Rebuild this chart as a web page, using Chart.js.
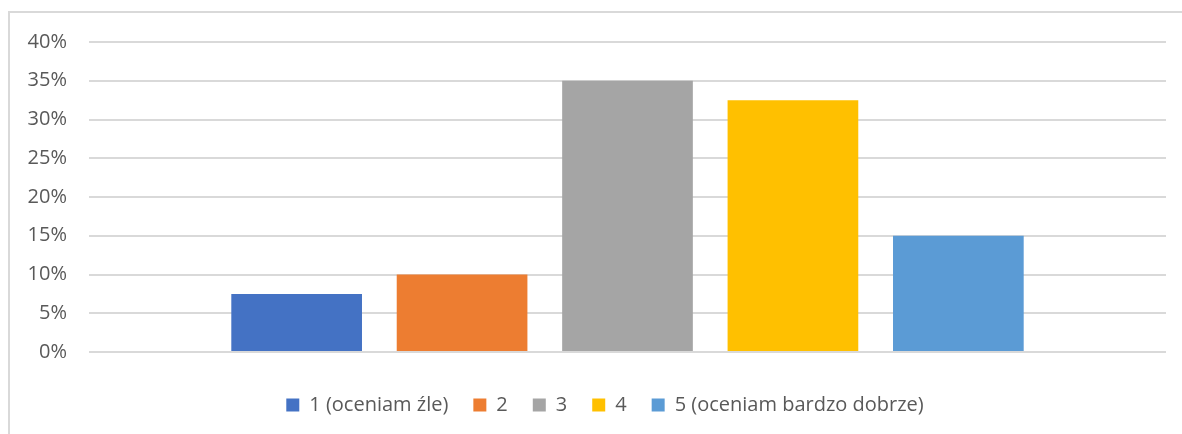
<!DOCTYPE html>
<html>
<head>
<meta charset="utf-8">
<script src="https://cdn.jsdelivr.net/npm/chart.js@4"></script>
<style>
  body { margin: 0; background: #fff; overflow: hidden; }
  #frame {
    position: absolute; left: 8px; top: 11px;
    width: 1200px; height: 440px;
    border: 2px solid #d9d9d9; box-sizing: border-box;
  }
  #wrap { position: absolute; left: 0; top: 0; width: 1182px; height: 434px; }
</style>
</head>
<body>
<div id="frame"></div>
<div id="wrap"><canvas id="chart"></canvas></div>
<script>
// Dane
const categories = [""];
const seriesLabels = ["1 (oceniam źle)", "2", "3", "4", "5 (oceniam bardzo dobrze)"];
const seriesValues = [0.075, 0.10, 0.35, 0.325, 0.15];
const seriesColors = ["#4472C4", "#ED7D31", "#A5A5A5", "#FFC000", "#5B9BD5"];
const yTicks = [0, 0.05, 0.10, 0.15, 0.20, 0.25, 0.30, 0.35, 0.40];

const FONT = "'Open Sans', sans-serif";
const TEXT = "#595959";

const datasets = seriesLabels.map((label, i) => ({
  label,
  data: [seriesValues[i]],
  backgroundColor: seriesColors[i],
  borderWidth: 0,
  categoryPercentage: 0.768,
  barPercentage: 0.79,
}));

// legenda wyśrodkowana na ramce wykresu, nie na płótnie
const shiftLegend = {
  id: "shiftLegend",
  afterInit(chart) {
    const legend = chart.legend;
    if (!legend) return;
    const origDraw = legend.draw;
    legend.draw = function (area) {
      chart.ctx.save();
      chart.ctx.translate(22, 0);
      origDraw.call(this, area);
      chart.ctx.restore();
    };
  },
};

const ctx = document.querySelector("#chart").getContext("2d");
new Chart(ctx, {
  type: "bar",
  data: { labels: categories, datasets },
  plugins: [shiftLegend],
  options: {
    responsive: true,
    maintainAspectRatio: false,
    animation: false,
    layout: { padding: { left: 0, right: 16, top: 42, bottom: 9 } },
    scales: {
      x: {
        grid: { display: false },
        border: { display: false },
        ticks: { display: false },
        afterFit: (scale) => {
          scale.height = 18;
        },
      },
      y: {
        min: 0,
        max: 0.4,
        afterBuildTicks: (scale) => {
          scale.ticks = yTicks.map((v) => ({ value: v }));
        },
        afterFit: (scale) => {
          scale.width = 89;
        },
        border: { display: false },
        grid: { color: "#d9d9d9", lineWidth: 2, drawTicks: false },
        ticks: {
          padding: 22,
          color: TEXT,
          font: { family: FONT, size: 20 },
          callback: (v) => Math.round(v * 100) + "%",
        },
      },
    },
    plugins: {
      legend: {
        position: "bottom",
        labels: {
          color: TEXT,
          font: { family: FONT, size: 20 },
          boxWidth: 13,
          boxHeight: 13,
          padding: 25,
        },
      },
      tooltip: { enabled: false },
    },
  },
});
</script>
</body>
</html>
